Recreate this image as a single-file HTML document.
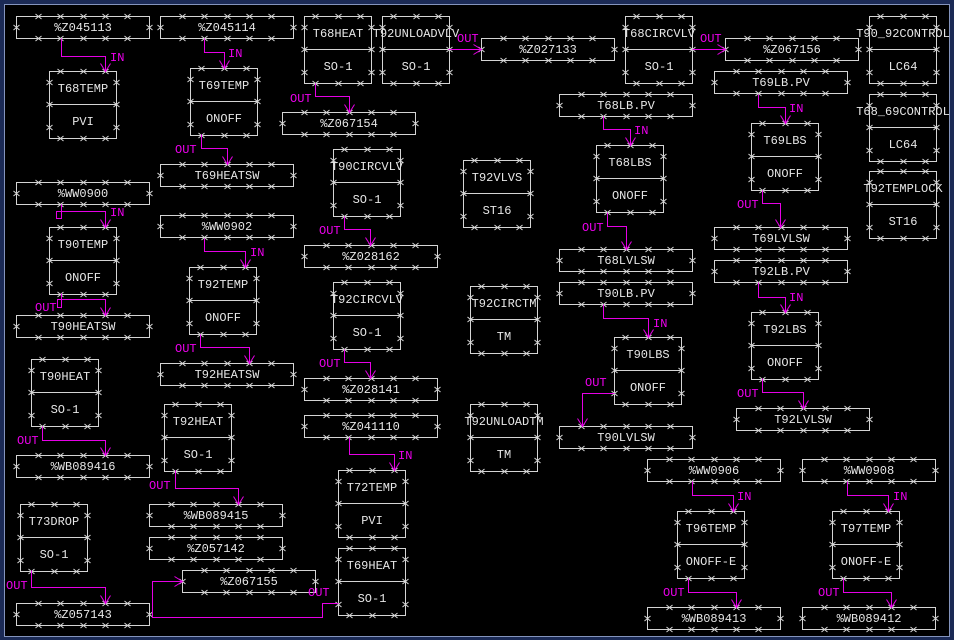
<!DOCTYPE html>
<html><head><meta charset="utf-8"><style>
html,body{margin:0;padding:0;background:#1b2a55;}
svg{display:block;}
text{font-family:"Liberation Mono","DejaVu Sans Mono",monospace;font-size:12px;}
.t{fill:#e6e6e6;text-anchor:middle;}
.l{fill:#ee00ee;}
</style></head><body>
<svg width="954" height="640" viewBox="0 0 954 640" xmlns="http://www.w3.org/2000/svg">
<defs>
<path id="m" d="M-3,-2.5L3,2.5M3,-2.5L-3,2.5" stroke="#d8d8d8" stroke-width="1" fill="none"/>
<g id="bar">
<rect x="0.5" y="0.5" width="133" height="22" fill="none" stroke="#d4d4d4" shape-rendering="crispEdges"/>
<use href="#m" x="22.5" y="0.5"/><use href="#m" x="44.5" y="0.5"/><use href="#m" x="67.5" y="0.5"/><use href="#m" x="89.5" y="0.5"/><use href="#m" x="111.5" y="0.5"/>
<use href="#m" x="22.5" y="22.5"/><use href="#m" x="44.5" y="22.5"/><use href="#m" x="67.5" y="22.5"/><use href="#m" x="89.5" y="22.5"/><use href="#m" x="111.5" y="22.5"/>
<use href="#m" x="0.5" y="11.5"/><use href="#m" x="133.5" y="11.5"/>
</g>
<g id="big">
<rect x="0.5" y="0.5" width="67" height="67" fill="none" stroke="#d4d4d4" shape-rendering="crispEdges"/>
<line x1="0" y1="33.5" x2="68" y2="33.5" stroke="#d4d4d4" shape-rendering="crispEdges"/>
<use href="#m" x="11.5" y="0.5"/><use href="#m" x="34.5" y="0.5"/><use href="#m" x="56.5" y="0.5"/>
<use href="#m" x="11.5" y="67.5"/><use href="#m" x="34.5" y="67.5"/><use href="#m" x="56.5" y="67.5"/>
<use href="#m" x="0.5" y="11.5"/><use href="#m" x="0.5" y="33.5"/><use href="#m" x="0.5" y="56.5"/>
<use href="#m" x="67.5" y="11.5"/><use href="#m" x="67.5" y="33.5"/><use href="#m" x="67.5" y="56.5"/>
</g>
</defs>
<rect x="0" y="0" width="954" height="640" fill="#1b2a55"/>
<rect x="4.5" y="4.5" width="945" height="632" fill="#000" stroke="#8494bd" shape-rendering="crispEdges"/>

<!-- bars -->
<use href="#bar" x="16" y="16"/>
<use href="#bar" x="160" y="16"/>
<use href="#bar" x="481" y="38"/>
<use href="#bar" x="725" y="38"/>
<use href="#bar" x="282" y="112"/>
<use href="#bar" x="714" y="71"/>
<use href="#bar" x="559" y="94"/>
<use href="#bar" x="160" y="164"/>
<use href="#bar" x="16" y="182"/>
<use href="#bar" x="160" y="215"/>
<use href="#bar" x="714" y="227"/>
<use href="#bar" x="304" y="245"/>
<use href="#bar" x="559" y="249"/>
<use href="#bar" x="714" y="260"/>
<use href="#bar" x="559" y="282"/>
<use href="#bar" x="16" y="315"/>
<use href="#bar" x="160" y="363"/>
<use href="#bar" x="304" y="378"/>
<use href="#bar" x="736" y="408"/>
<use href="#bar" x="304" y="415"/>
<use href="#bar" x="559" y="426"/>
<use href="#bar" x="16" y="455"/>
<use href="#bar" x="647" y="459"/>
<use href="#bar" x="802" y="459"/>
<use href="#bar" x="149" y="504"/>
<use href="#bar" x="149" y="537"/>
<use href="#bar" x="182" y="570"/>
<use href="#bar" x="16" y="603"/>
<use href="#bar" x="647" y="607"/>
<use href="#bar" x="802" y="607"/>

<!-- big boxes -->
<use href="#big" x="49" y="71"/>
<use href="#big" x="190" y="68"/>
<use href="#big" x="304" y="16"/>
<use href="#big" x="382" y="16"/>
<use href="#big" x="625" y="16"/>
<use href="#big" x="869" y="16"/>
<use href="#big" x="869" y="94"/>
<use href="#big" x="596" y="145"/>
<use href="#big" x="751" y="123"/>
<use href="#big" x="333" y="149"/>
<use href="#big" x="463" y="160"/>
<use href="#big" x="869" y="171"/>
<use href="#big" x="49" y="227"/>
<use href="#big" x="189" y="267"/>
<use href="#big" x="333" y="282"/>
<use href="#big" x="470" y="286"/>
<use href="#big" x="751" y="312"/>
<use href="#big" x="614" y="337"/>
<use href="#big" x="31" y="359"/>
<use href="#big" x="164" y="404"/>
<use href="#big" x="470" y="404"/>
<use href="#big" x="338" y="470"/>
<use href="#big" x="20" y="504"/>
<use href="#big" x="677" y="511"/>
<use href="#big" x="832" y="511"/>
<use href="#big" x="338" y="548"/>

<!-- bar texts -->
<text class="t" x="83" y="31">%Z045113</text>
<text class="t" x="227" y="31">%Z045114</text>
<text class="t" x="548" y="53">%Z027133</text>
<text class="t" x="792" y="53">%Z067156</text>
<text class="t" x="349" y="127">%Z067154</text>
<text class="t" x="781" y="86">T69LB.PV</text>
<text class="t" x="626" y="109">T68LB.PV</text>
<text class="t" x="227" y="179">T69HEATSW</text>
<text class="t" x="83" y="197">%WW0900</text>
<text class="t" x="227" y="230">%WW0902</text>
<text class="t" x="781" y="242">T69LVLSW</text>
<text class="t" x="371" y="260">%Z028162</text>
<text class="t" x="626" y="264">T68LVLSW</text>
<text class="t" x="781" y="275">T92LB.PV</text>
<text class="t" x="626" y="297">T90LB.PV</text>
<text class="t" x="83" y="330">T90HEATSW</text>
<text class="t" x="227" y="378">T92HEATSW</text>
<text class="t" x="371" y="393">%Z028141</text>
<text class="t" x="803" y="423">T92LVLSW</text>
<text class="t" x="371" y="430">%Z041110</text>
<text class="t" x="626" y="441">T90LVLSW</text>
<text class="t" x="83" y="470">%WB089416</text>
<text class="t" x="714" y="474">%WW0906</text>
<text class="t" x="869" y="474">%WW0908</text>
<text class="t" x="216" y="519">%WB089415</text>
<text class="t" x="216" y="552">%Z057142</text>
<text class="t" x="249" y="585">%Z067155</text>
<text class="t" x="83" y="618">%Z057143</text>
<text class="t" x="714" y="622">%WB089413</text>
<text class="t" x="869" y="622">%WB089412</text>

<!-- big box texts -->
<text class="t" x="83" y="92">T68TEMP</text><text class="t" x="83" y="125">PVI</text>
<text class="t" x="224" y="89">T69TEMP</text><text class="t" x="224" y="122">ONOFF</text>
<text class="t" x="338" y="37">T68HEAT</text><text class="t" x="338" y="70">SO-1</text>
<text class="t" x="416" y="37">T92UNLOADVLV</text><text class="t" x="416" y="70">SO-1</text>
<text class="t" x="659" y="37">T68CIRCVLV</text><text class="t" x="659" y="70">SO-1</text>
<text class="t" x="903" y="37">T90_92CONTROL</text><text class="t" x="903" y="70">LC64</text>
<text class="t" x="903" y="115">T68_69CONTROL</text><text class="t" x="903" y="148">LC64</text>
<text class="t" x="630" y="166">T68LBS</text><text class="t" x="630" y="199">ONOFF</text>
<text class="t" x="785" y="144">T69LBS</text><text class="t" x="785" y="177">ONOFF</text>
<text class="t" x="367" y="170">T90CIRCVLV</text><text class="t" x="367" y="203">SO-1</text>
<text class="t" x="497" y="181">T92VLVS</text><text class="t" x="497" y="214">ST16</text>
<text class="t" x="903" y="192">T92TEMPLOCK</text><text class="t" x="903" y="225">ST16</text>
<text class="t" x="83" y="248">T90TEMP</text><text class="t" x="83" y="281">ONOFF</text>
<text class="t" x="223" y="288">T92TEMP</text><text class="t" x="223" y="321">ONOFF</text>
<text class="t" x="367" y="303">T92CIRCVLV</text><text class="t" x="367" y="336">SO-1</text>
<text class="t" x="504" y="307">T92CIRCTM</text><text class="t" x="504" y="340">TM</text>
<text class="t" x="785" y="333">T92LBS</text><text class="t" x="785" y="366">ONOFF</text>
<text class="t" x="648" y="358">T90LBS</text><text class="t" x="648" y="391">ONOFF</text>
<text class="t" x="65" y="380">T90HEAT</text><text class="t" x="65" y="413">SO-1</text>
<text class="t" x="198" y="425">T92HEAT</text><text class="t" x="198" y="458">SO-1</text>
<text class="t" x="504" y="425">T92UNLOADTM</text><text class="t" x="504" y="458">TM</text>
<text class="t" x="372" y="491">T72TEMP</text><text class="t" x="372" y="524">PVI</text>
<text class="t" x="54" y="525">T73DROP</text><text class="t" x="54" y="558">SO-1</text>
<text class="t" x="711" y="532">T96TEMP</text><text class="t" x="711" y="565">ONOFF-E</text>
<text class="t" x="866" y="532">T97TEMP</text><text class="t" x="866" y="565">ONOFF-E</text>
<text class="t" x="372" y="569">T69HEAT</text><text class="t" x="372" y="602">SO-1</text>

<!-- connectors -->
<g transform="translate(0.5,0.5)" fill="none" stroke="#e600e6" stroke-width="1">
<polyline points="61,38 61,56 105,56 105,71"/>
<polyline points="204,38 204,52 224,52 224,68"/>
<polyline points="201,134 201,148 227,148 227,164"/>
<polyline points="315,83 315,96 349,96 349,112"/>
<polyline points="448,49 481,49"/>
<polyline points="692,49 725,49"/>
<polyline points="603,116 603,129 630,129 630,145"/>
<polyline points="758,94 758,107 785,107 785,123"/>
<polyline points="607,212 607,226 626,226 626,249"/>
<polyline points="762,190 762,203 780,203 780,227"/>
<polyline points="61,204 61,218 56,218 56,211 105,211 105,227"/>
<polyline points="61,293 61,307 57,307 57,299 105,299 105,315"/>
<polyline points="204,238 204,251 245,251 245,267"/>
<polyline points="200,334 200,347 249,347 249,363"/>
<polyline points="344,216 344,229 370,229 370,245"/>
<polyline points="344,349 344,362 370,362 370,378"/>
<polyline points="349,437 349,454 394,454 394,470"/>
<polyline points="603,304 603,318 648,318 648,337"/>
<polyline points="614,393 582,393 582,426"/>
<polyline points="758,282 758,297 785,297 785,312"/>
<polyline points="762,378 762,392 803,392 803,408"/>
<polyline points="42,426 42,440 105,440 105,455"/>
<polyline points="175,470 175,488 238,488 238,504"/>
<polyline points="31,570 31,587 105,587 105,603"/>
<polyline points="338,603 322,603 322,617 152,617 152,581 182,581"/>
<polyline points="692,481 692,495 733,495 733,511"/>
<polyline points="688,578 688,592 736,592 736,607"/>
<polyline points="847,481 847,495 888,495 888,511"/>
<polyline points="843,578 843,592 891,592 891,607"/>
<!-- arrowheads -->
<polyline points="100,63 105,71 110,63"/>
<polyline points="219,60 224,68 229,60"/>
<polyline points="222,156 227,164 232,156"/>
<polyline points="344,104 349,112 354,104"/>
<polyline points="473,44 481,49 473,54"/>
<polyline points="717,44 725,49 717,54"/>
<polyline points="625,137 630,145 635,137"/>
<polyline points="780,115 785,123 790,115"/>
<polyline points="621,241 626,249 631,241"/>
<polyline points="775,219 780,227 785,219"/>
<polyline points="100,219 105,227 110,219"/>
<polyline points="100,307 105,315 110,307"/>
<polyline points="240,259 245,267 250,259"/>
<polyline points="244,355 249,363 254,355"/>
<polyline points="365,237 370,245 375,237"/>
<polyline points="365,370 370,378 375,370"/>
<polyline points="389,462 394,470 399,462"/>
<polyline points="643,329 648,337 653,329"/>
<polyline points="577,418 582,426 587,418"/>
<polyline points="780,304 785,312 790,304"/>
<polyline points="798,400 803,408 808,400"/>
<polyline points="100,447 105,455 110,447"/>
<polyline points="233,496 238,504 243,496"/>
<polyline points="100,595 105,603 110,595"/>
<polyline points="174,576 182,581 174,586"/>
<polyline points="728,503 733,511 738,503"/>
<polyline points="731,599 736,607 741,599"/>
<polyline points="883,503 888,511 893,503"/>
<polyline points="886,599 891,607 896,599"/>
</g>

<!-- IN / OUT labels -->
<text class="l" x="110" y="61">IN</text>
<text class="l" x="228" y="57">IN</text>
<text class="l" x="175" y="153">OUT</text>
<text class="l" x="290" y="102">OUT</text>
<text class="l" x="457" y="42">OUT</text>
<text class="l" x="700" y="42">OUT</text>
<text class="l" x="634" y="134">IN</text>
<text class="l" x="789" y="112">IN</text>
<text class="l" x="582" y="231">OUT</text>
<text class="l" x="737" y="208">OUT</text>
<text class="l" x="110" y="216">IN</text>
<text class="l" x="35" y="311">OUT</text>
<text class="l" x="250" y="256">IN</text>
<text class="l" x="175" y="352">OUT</text>
<text class="l" x="319" y="234">OUT</text>
<text class="l" x="319" y="367">OUT</text>
<text class="l" x="398" y="459">IN</text>
<text class="l" x="653" y="327">IN</text>
<text class="l" x="585" y="386">OUT</text>
<text class="l" x="789" y="301">IN</text>
<text class="l" x="737" y="397">OUT</text>
<text class="l" x="17" y="444">OUT</text>
<text class="l" x="149" y="489">OUT</text>
<text class="l" x="6" y="589">OUT</text>
<text class="l" x="308" y="596">OUT</text>
<text class="l" x="737" y="500">IN</text>
<text class="l" x="663" y="596">OUT</text>
<text class="l" x="893" y="500">IN</text>
<text class="l" x="818" y="596">OUT</text>
</svg>
</body></html>
